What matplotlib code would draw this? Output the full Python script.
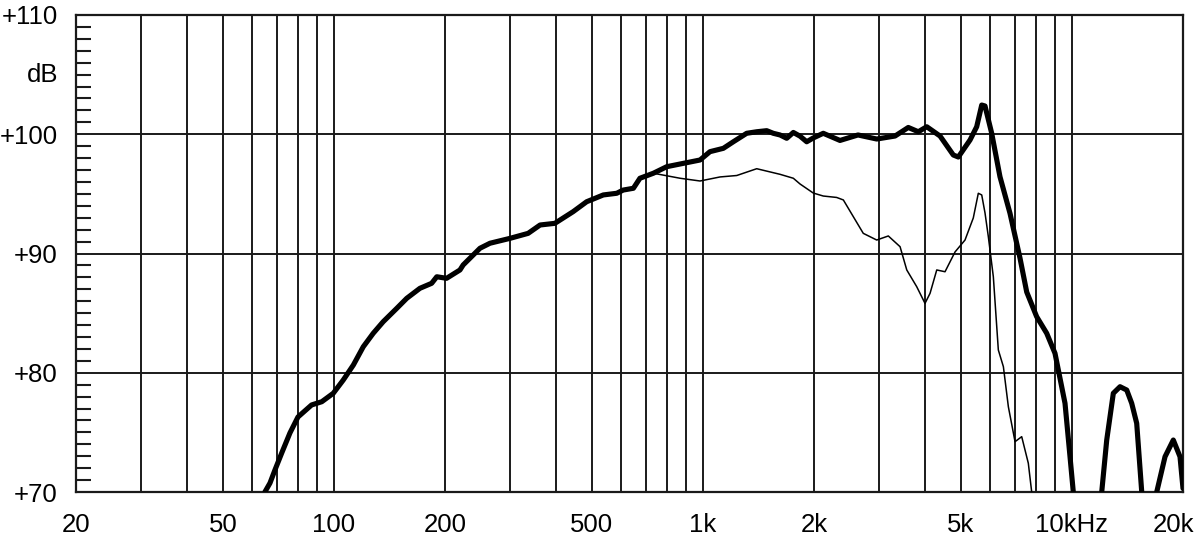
import matplotlib
matplotlib.use("Agg")
import matplotlib.pyplot as plt
import matplotlib.transforms as mtransforms
from matplotlib.ticker import FixedLocator, NullLocator

plt.rcParams['font.family'] = ['Liberation Sans', 'DejaVu Sans']

# Thick curve (on-axis response), main segment
thick_f = [65.0, 67.1, 69.2, 72.2, 76.0, 79.9, 87.0, 92.7, 99.6, 106, 112.9, 120.1, 127.8,
           136, 148, 157.5, 171, 184, 190, 202, 219.6, 224, 248.8, 264.8, 300, 336, 362,
           397, 445, 484, 537, 584, 608, 648, 675, 734, 798, 885, 982, 1045, 1136, 1209,
           1314, 1399, 1489, 1551, 1618, 1687, 1758, 1833, 1911, 1991, 2119, 2352, 2632,
           2958, 3316, 3602, 3835, 4042, 4392, 4770, 4922, 5296, 5520, 5696, 5814, 6062,
           6383, 6795, 7232, 7542, 8026, 8544, 8998, 9578, 9882, 10086]
thick_db = [70.0, 70.75, 71.84, 73.27, 74.95, 76.29, 77.30, 77.57, 78.28, 79.39, 80.65, 82.18,
            83.31, 84.28, 85.40, 86.24, 87.08, 87.50, 88.05, 87.92, 88.62, 89.04, 90.44, 90.86,
            91.27, 91.69, 92.39, 92.53, 93.51, 94.34, 94.91, 95.05, 95.32, 95.47, 96.31, 96.73,
            97.28, 97.56, 97.84, 98.54, 98.82, 99.37, 100.08, 100.21, 100.30, 100.08, 99.94,
            99.66, 100.15, 99.84, 99.37, 99.69, 100.08, 99.48, 99.94, 99.60, 99.85, 100.57,
            100.21, 100.63, 99.85, 98.26, 98.09, 99.52, 100.63, 102.45, 102.37, 100.08, 96.44,
            93.37, 89.62, 86.77, 84.70, 83.31, 81.63, 77.44, 72.96, 70.0]

# Thick curve, high-frequency lobes
lobe1_f = [12044, 12426, 12948, 13502, 14078, 14522, 14982, 15460]
lobe1_db = [70.0, 74.36, 78.28, 78.83, 78.55, 77.44, 75.76, 70.0]
lobe2_f = [16976, 17878, 18826, 19630, 20000]
lobe2_db = [70.0, 72.96, 74.36, 72.96, 70.3]

# Thin curve (off-axis response)
thin_f = [734, 867, 982, 1113, 1235, 1399, 1618, 1758, 1833, 1991, 2119, 2304, 2402, 2556,
          2720, 2958, 3180, 3422, 3568, 3796, 3998, 4126, 4302, 4530, 4822, 5132, 5404, 5576,
          5696, 5814, 5936, 6124, 6318, 6520, 6726, 7012, 7310, 7618, 7780]
thin_db = [96.73, 96.31, 96.08, 96.42, 96.54, 97.11, 96.64, 96.31, 95.83, 95.07, 94.82, 94.70,
           94.49, 93.09, 91.69, 91.13, 91.47, 90.57, 88.62, 87.22, 85.82, 86.66, 88.62, 88.47,
           90.13, 91.13, 92.98, 95.05, 94.91, 93.40, 91.41, 88.05, 81.91, 80.51, 77.15, 74.22,
           74.64, 72.41, 70.0]

x_grid = [30, 40, 50, 60, 70, 80, 90, 100, 200, 300, 400, 500, 600, 700, 800, 900,
          1000, 2000, 3000, 4000, 5000, 6000, 7000, 8000, 9000, 10000, 20000]
x_label_pos = [20, 50, 100, 200, 500, 1000, 2000, 5000, 10000, 20000]
x_labels = ["20", "50", "100", "200", "500", "1k", "2k", "5k", "10kHz", "20k"]
y_label_pos = [70, 80, 90, 100, 110]
y_labels = ["+70", "+80", "+90", "+100", "+110"]
y_minor = [v for v in range(71, 110) if v % 10 != 0]

fig = plt.figure(figsize=(12, 5.43), dpi=100)
ax = fig.add_axes([76 / 1200, (543 - 492) / 543, (1183 - 76) / 1200, (492 - 15) / 543])
ax.set_xscale('log')
ax.set_xlim(20, 20000)
ax.set_ylim(70, 110)

gc = '#1a1a1a'
for xv in x_grid:
    ax.axvline(xv, color=gc, lw=1.4, zorder=1)
for yv in [80, 90, 100]:
    ax.axhline(yv, color=gc, lw=1.4, zorder=1)

lw_thick = 3.7
for fx, dy in [(thick_f, thick_db), (lobe1_f, lobe1_db), (lobe2_f, lobe2_db)]:
    ax.plot(fx, dy, color='black', lw=lw_thick, solid_capstyle='round',
            solid_joinstyle='round', zorder=3)
ax.plot(thin_f, thin_db, color='black', lw=1.1, zorder=3)

for s in ax.spines.values():
    s.set_color(gc)
    s.set_linewidth(1.6)

ax.xaxis.set_major_locator(FixedLocator(x_label_pos))
ax.xaxis.set_minor_locator(NullLocator())
ax.set_xticklabels(x_labels)
ax.tick_params(axis='x', which='both', length=0, labelsize=18.5, pad=15, colors='black')

ax.yaxis.set_major_locator(FixedLocator(y_label_pos))
ax.set_yticklabels(y_labels)
ax.yaxis.set_minor_locator(FixedLocator(y_minor))
ax.tick_params(axis='y', which='major', length=0, labelsize=18.5, pad=13, colors='black')
ax.tick_params(axis='y', which='minor', direction='in', length=11, width=1.5, color=gc)

# shift the last x label left so it stays inside the figure
fig.canvas.draw()
last = ax.get_xticklabels()[-1]
last.set_transform(last.get_transform() +
                   mtransforms.ScaledTranslation(-9 / 100, 0, fig.dpi_scale_trans))

ax.text(-0.016, 105, "dB", transform=ax.get_yaxis_transform(), ha='right', va='center',
        fontsize=18.5)

fig.savefig("out.png", dpi=100)
